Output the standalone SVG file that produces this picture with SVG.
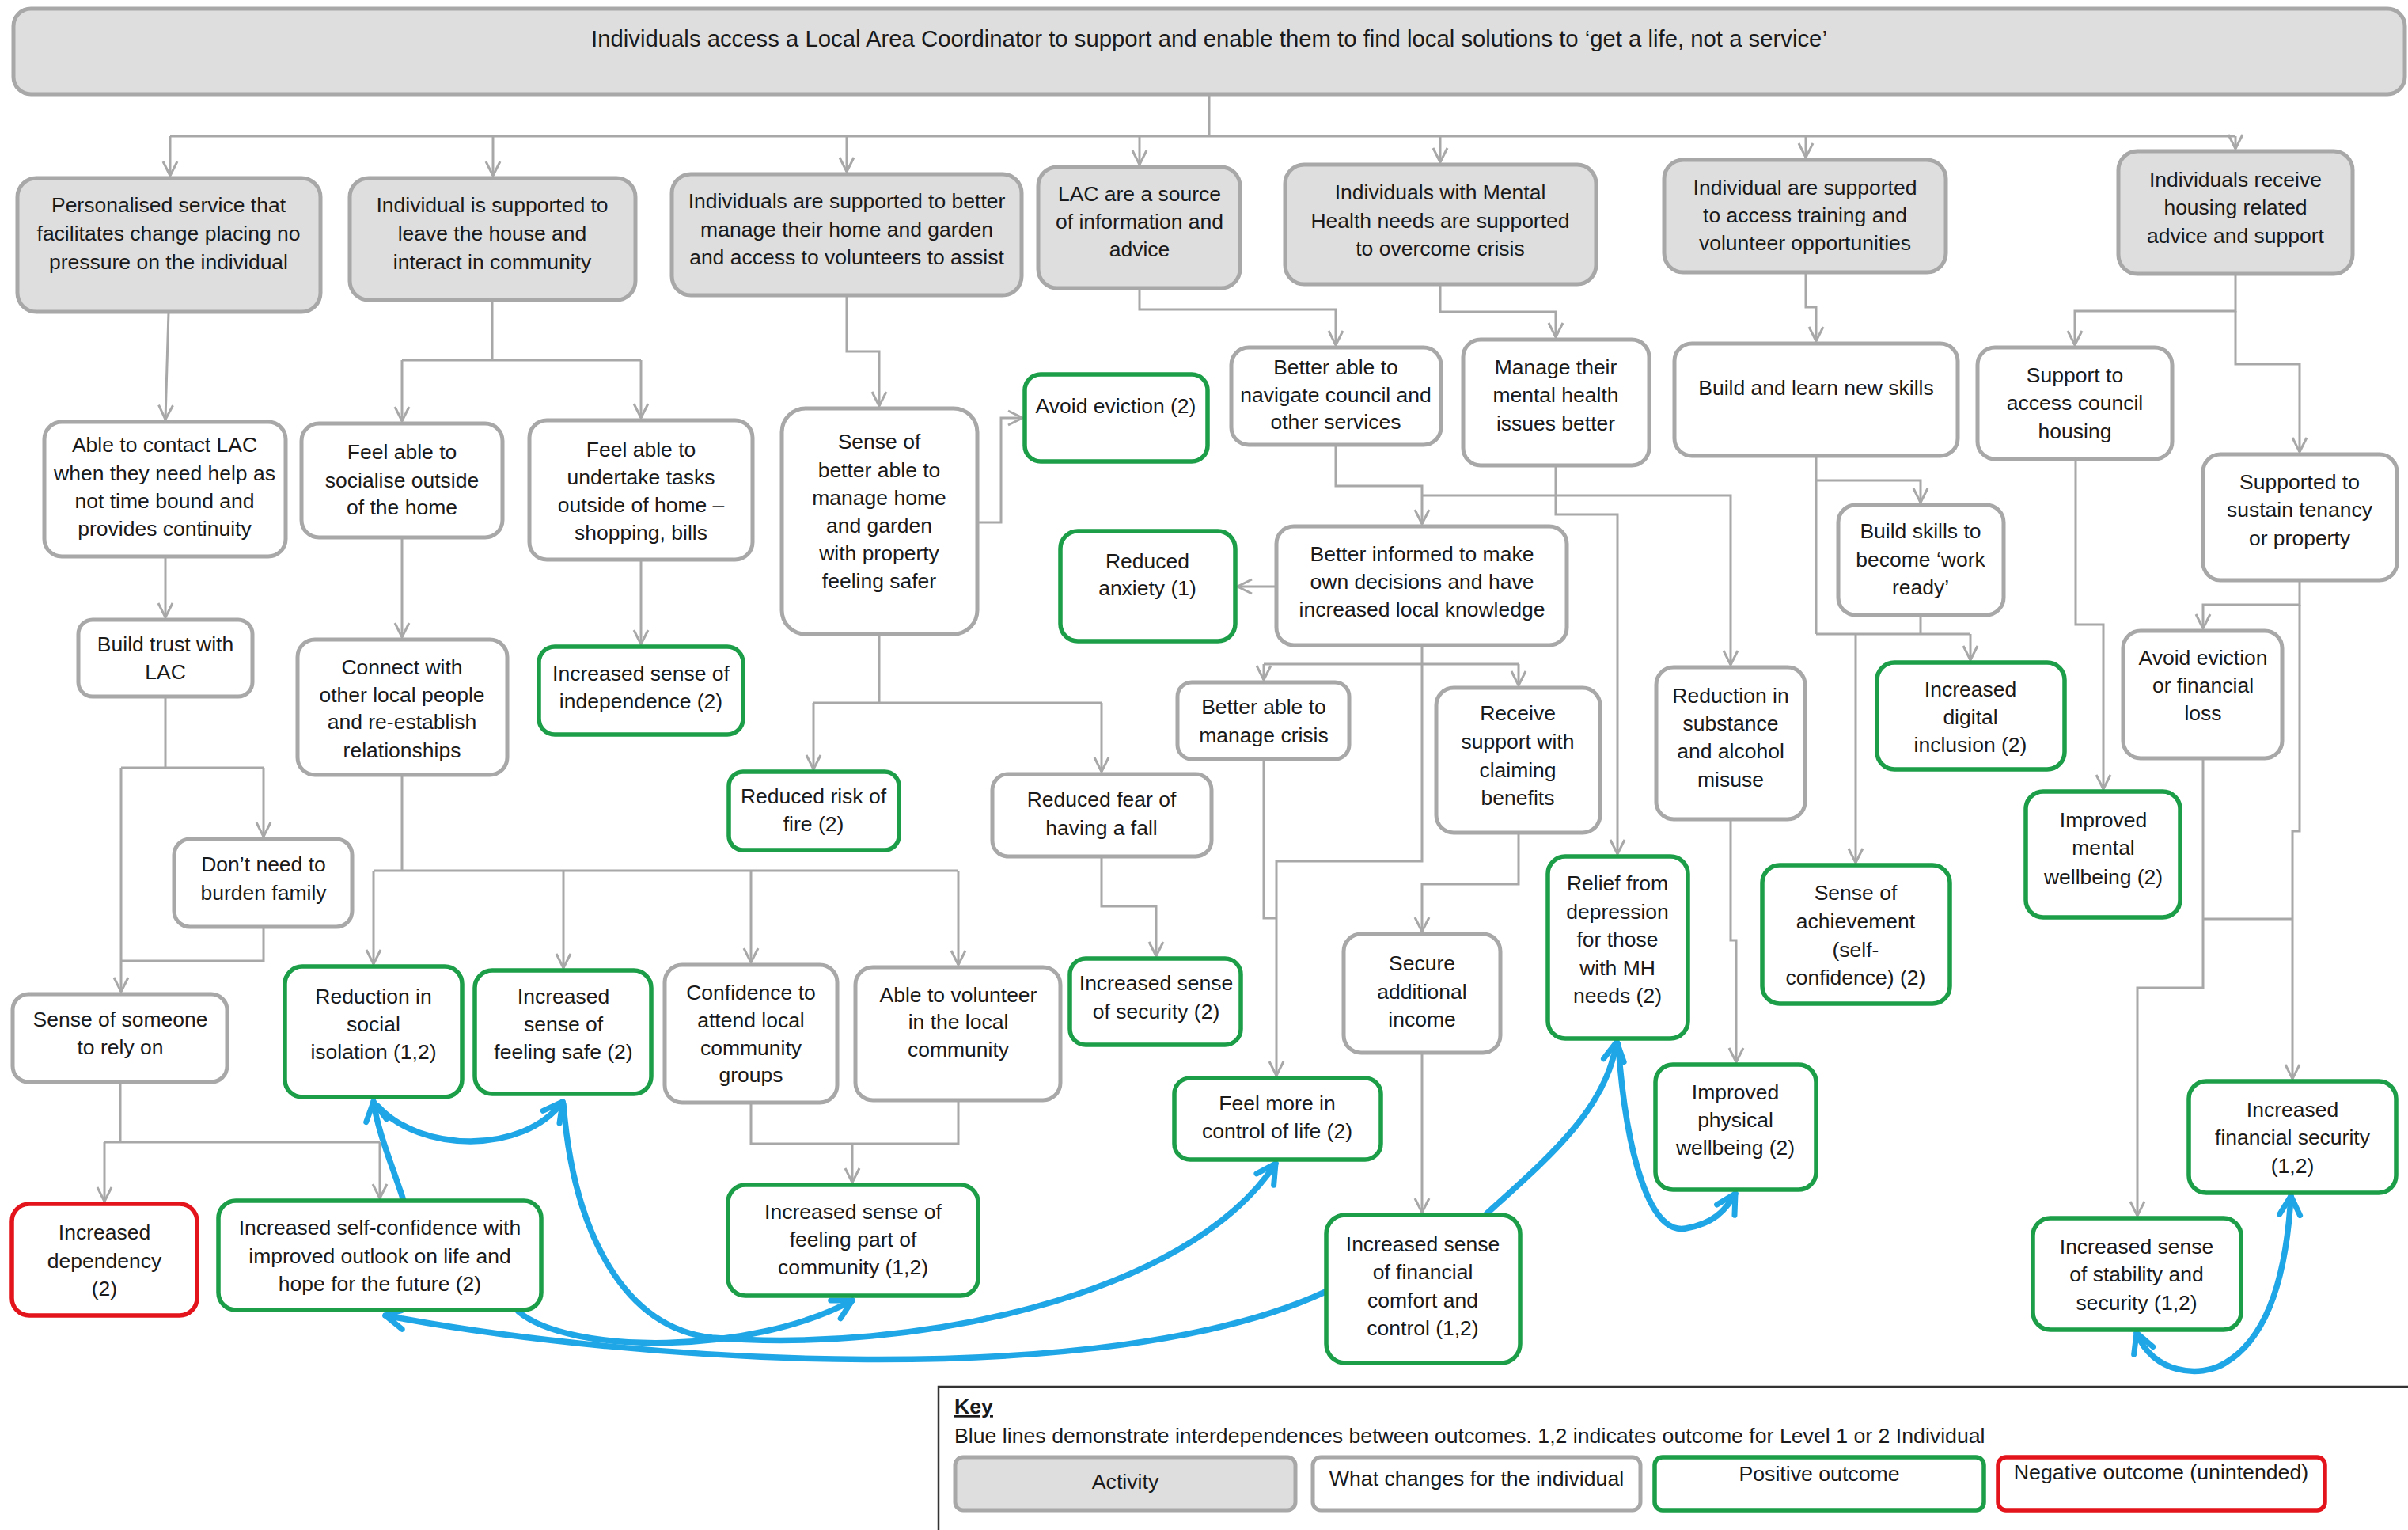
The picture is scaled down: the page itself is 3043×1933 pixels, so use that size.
<svg xmlns="http://www.w3.org/2000/svg" width="3043" height="1933" viewBox="0 0 3043 1933">
<defs>
<style>
.act{fill:#dedede;stroke:#a8a8a8;stroke-width:5}
.chg{fill:#fff;stroke:#a8a8a8;stroke-width:5}
.pos{fill:#fff;stroke:#1c9e48;stroke-width:5.5}
.neg{fill:#fff;stroke:#e3141b;stroke-width:5.5}
.t{font-family:"Liberation Sans",Arial,sans-serif;font-size:26.5px;fill:#1a1a1a;text-anchor:middle}
.k{font-family:"Liberation Sans",Arial,sans-serif;font-size:26.7px;fill:#1a1a1a}
.c{fill:none;stroke:#a8a8a8;stroke-width:3}
.ca{fill:none;stroke:#a8a8a8;stroke-width:3;marker-end:url(#ga)}
.b{fill:none;stroke:#1fa6e6;stroke-width:7.5;stroke-linecap:round;marker-end:url(#ba)}
</style>
<marker id="ga" markerUnits="userSpaceOnUse" viewBox="0 0 22 22" markerWidth="22" markerHeight="22" refX="20" refY="11" orient="auto">
<path d="M2,2 L20,11 L2,20" fill="none" stroke="#a8a8a8" stroke-width="3"/>
</marker>
<marker id="ba" markerUnits="userSpaceOnUse" viewBox="0 0 34 34" markerWidth="34" markerHeight="34" refX="28" refY="17" orient="auto-start-reverse">
<path d="M4,4 L28,17 L4,30" fill="none" stroke="#1fa6e6" stroke-width="7" stroke-linecap="round" stroke-linejoin="round"/>
</marker>
</defs>
<rect width="3043" height="1933" fill="#fff"/>

<g id="connectors">
<path class="c" d="M1528,119 V172 M215,172 H2825"/>
<path class="ca" d="M215,172 V222"/>
<path class="ca" d="M623,172 V222"/>
<path class="ca" d="M1070,172 V217"/>
<path class="ca" d="M1440,172 V208"/>
<path class="ca" d="M1820,172 V205"/>
<path class="ca" d="M2282,172 V199"/>
<path class="ca" d="M2825,172 V188"/>
<path class="ca" d="M213,394 L209,530"/>
<path class="c" d="M622,379 V455 M508,455 H810"/>
<path class="ca" d="M508,455 V532"/>
<path class="ca" d="M810,455 V528"/>
<path class="ca" d="M1070,373 V444 H1111 V513"/>
<path class="ca" d="M1235,660 H1265 V528 H1292"/>
<path class="ca" d="M1440,364 V391 H1688 V436"/>
<path class="ca" d="M1820,359 V394 H1966 V426"/>
<path class="ca" d="M2282,344 V388 H2295 V431"/>
<path class="ca" d="M2825,346 V393 H2622 V436"/>
<path class="ca" d="M2825,393 V460 H2906 V571"/>
<path class="ca" d="M209,703 V780"/>
<path class="c" d="M209,880 V970 M153,970 H333 M333,1171 V1214 H153"/>
<path class="ca" d="M333,970 V1057"/>
<path class="ca" d="M153,970 V1253"/>
<path class="ca" d="M508,679 V805"/>
<path class="ca" d="M810,707 V814"/>
<path class="c" d="M508,979 V1100 M472,1100 H1211"/>
<path class="ca" d="M472,1100 V1218"/>
<path class="ca" d="M712,1100 V1223"/>
<path class="ca" d="M949,1100 V1216"/>
<path class="ca" d="M1211,1100 V1219"/>
<path class="c" d="M1111,801 V888 M1028,888 H1392"/>
<path class="ca" d="M1028,888 V972"/>
<path class="ca" d="M1392,888 V975"/>
<path class="ca" d="M1392,1082 V1145 H1461 V1208"/>
<path class="ca" d="M1688,562 V614 H1797 V662"/>
<path class="ca" d="M1797,626 H2187 V840"/>
<path class="ca" d="M1966,588 V650 H2044 V1079"/>
<path class="ca" d="M1613,741 H1564"/>
<path class="c" d="M1597,839 H1919"/>
<path class="ca" d="M1597,839 V859"/>
<path class="ca" d="M1919,839 V866"/>
<path class="ca" d="M1797,815 V1088 H1613 V1359"/>
<path class="c" d="M1597,959 V1160 H1613"/>
<path class="ca" d="M1919,1052 V1117 H1797 V1177"/>
<path class="ca" d="M1797,1330 V1532"/>
<path class="ca" d="M2187,1035 V1188 H2194 V1342"/>
<path class="c" d="M2295,576 V801 M2427,777 V801 M2295,801 H2490"/>
<path class="ca" d="M2295,607 H2427 V635"/>
<path class="ca" d="M2490,801 V834"/>
<path class="ca" d="M2345,801 V1090"/>
<path class="ca" d="M2623,580 V789 H2658 V997"/>
<path class="ca" d="M2906,733 V764 H2784 V794"/>
<path class="ca" d="M2906,764 V1050 H2897 V1363"/>
<path class="ca" d="M2784,958 V1248 H2701 V1536"/>
<path class="c" d="M2784,1161 H2897"/>
<path class="c" d="M152,1367 V1443 M132,1443 H480"/>
<path class="ca" d="M132,1443 V1518"/>
<path class="ca" d="M480,1443 V1514"/>
<path class="c" d="M949,1393 V1445 H1211 V1390"/>
<path class="ca" d="M1077,1445 V1494"/>
</g>

<g id="blue-links">
<path class="b" d="M510,1517 C495,1470 478,1432 472,1392"/>
<path class="b" d="M478,1398 C530,1455 660,1460 711,1392"/>
<path class="b" d="M712,1395 C725,1560 790,1678 900,1690 C1150,1710 1500,1640 1612,1470"/>
<path class="b" d="M1675,1632 C1400,1760 800,1722 487,1662"/>
<path class="b" d="M655,1657 C720,1712 950,1712 1077,1643"/>
<path class="b" d="M1879,1533 C1960,1460 2030,1400 2043,1316"/>
<path class="b" d="M2045,1320 C2055,1460 2085,1560 2130,1552 C2165,1546 2180,1530 2193,1508"/>
<path class="b" style="marker-start:url(#ba)" d="M2700,1684 C2720,1735 2780,1742 2812,1722 C2870,1688 2890,1600 2895,1511"/>
</g>

<g id="title"><rect class="act" x="17" y="11" width="3022" height="108" rx="22"/>
<text class="t" style="font-size:29.3px" x="1528" y="59">Individuals access a Local Area Coordinator to support and enable them to find local solutions to ‘get a life, not a service’</text></g>

<g id="a1"><rect class="act" x="22" y="225" width="383" height="169" rx="24"/>
<text class="t"><tspan x="213" y="268">Personalised service that</tspan><tspan x="213" y="304">facilitates change placing no</tspan><tspan x="213" y="340">pressure on the individual</tspan></text></g>
<g id="a2"><rect class="act" x="442" y="225" width="361" height="154" rx="24"/>
<text class="t"><tspan x="622" y="268">Individual is supported to</tspan><tspan x="622" y="304">leave the house and</tspan><tspan x="622" y="340">interact in community</tspan></text></g>
<g id="a3"><rect class="act" x="849" y="220" width="442" height="153" rx="24"/>
<text class="t"><tspan x="1070" y="263">Individuals are supported to better</tspan><tspan x="1070" y="299">manage their home and garden</tspan><tspan x="1070" y="334">and access to volunteers to assist</tspan></text></g>
<g id="a4"><rect class="act" x="1312" y="211" width="255" height="153" rx="24"/>
<text class="t"><tspan x="1440" y="254">LAC are a source</tspan><tspan x="1440" y="289">of information and</tspan><tspan x="1440" y="324">advice</tspan></text></g>
<g id="a5"><rect class="act" x="1624" y="208" width="393" height="151" rx="24"/>
<text class="t"><tspan x="1820" y="252">Individuals with Mental</tspan><tspan x="1820" y="288">Health needs are supported</tspan><tspan x="1820" y="323">to overcome crisis</tspan></text></g>
<g id="a6"><rect class="act" x="2103" y="202" width="356" height="142" rx="24"/>
<text class="t"><tspan x="2281" y="246">Individual are supported</tspan><tspan x="2281" y="281">to access training and</tspan><tspan x="2281" y="316">volunteer opportunities</tspan></text></g>
<g id="a7"><rect class="act" x="2677" y="191" width="296" height="155" rx="24"/>
<text class="t"><tspan x="2825" y="236">Individuals receive</tspan><tspan x="2825" y="271">housing related</tspan><tspan x="2825" y="307">advice and support</tspan></text></g>

<g id="c1"><rect class="chg" x="56" y="533" width="305" height="170" rx="22"/>
<text class="t"><tspan x="208" y="571">Able to contact LAC</tspan><tspan x="208" y="607">when they need help as</tspan><tspan x="208" y="642">not time bound and</tspan><tspan x="208" y="677">provides continuity</tspan></text></g>
<g id="c2"><rect class="chg" x="381" y="535" width="254" height="144" rx="22"/>
<text class="t"><tspan x="508" y="580">Feel able to</tspan><tspan x="508" y="616">socialise outside</tspan><tspan x="508" y="650">of the home</tspan></text></g>
<g id="c3"><rect class="chg" x="669" y="531" width="282" height="176" rx="22"/>
<text class="t"><tspan x="810" y="577">Feel able to</tspan><tspan x="810" y="612">undertake tasks</tspan><tspan x="810" y="647">outside of home –</tspan><tspan x="810" y="682">shopping, bills</tspan></text></g>
<g id="c4"><rect class="chg" x="988" y="516" width="247" height="285" rx="30"/>
<text class="t"><tspan x="1111" y="567">Sense of</tspan><tspan x="1111" y="603">better able to</tspan><tspan x="1111" y="638">manage home</tspan><tspan x="1111" y="673">and garden</tspan><tspan x="1111" y="708">with property</tspan><tspan x="1111" y="743">feeling safer</tspan></text></g>
<g id="p1"><rect class="pos" x="1295" y="473" width="231" height="110" rx="20"/>
<text class="t" x="1410" y="522">Avoid eviction (2)</text></g>
<g id="c5"><rect class="chg" x="1556" y="439" width="265" height="123" rx="22"/>
<text class="t"><tspan x="1688" y="473">Better able to</tspan><tspan x="1688" y="508">navigate council and</tspan><tspan x="1688" y="542">other services</tspan></text></g>
<g id="c6"><rect class="chg" x="1849" y="429" width="235" height="159" rx="22"/>
<text class="t"><tspan x="1966" y="473">Manage their</tspan><tspan x="1966" y="508">mental health</tspan><tspan x="1966" y="544">issues better</tspan></text></g>
<g id="c7"><rect class="chg" x="2116" y="434" width="358" height="142" rx="22"/>
<text class="t" x="2295" y="499">Build and learn new skills</text></g>
<g id="c8"><rect class="chg" x="2499" y="439" width="246" height="141" rx="22"/>
<text class="t"><tspan x="2622" y="483">Support to</tspan><tspan x="2622" y="518">access council</tspan><tspan x="2622" y="554">housing</tspan></text></g>
<g id="c9"><rect class="chg" x="2784" y="574" width="245" height="159" rx="22"/>
<text class="t"><tspan x="2906" y="618">Supported to</tspan><tspan x="2906" y="653">sustain tenancy</tspan><tspan x="2906" y="689">or property</tspan></text></g>

<g id="c10"><rect class="chg" x="99" y="783" width="220" height="97" rx="18"/>
<text class="t"><tspan x="209" y="823">Build trust with</tspan><tspan x="209" y="858">LAC</tspan></text></g>
<g id="c11"><rect class="chg" x="376" y="808" width="265" height="171" rx="22"/>
<text class="t"><tspan x="508" y="852">Connect with</tspan><tspan x="508" y="887">other local people</tspan><tspan x="508" y="921">and re-establish</tspan><tspan x="508" y="957">relationships</tspan></text></g>
<g id="p2"><rect class="pos" x="681" y="817" width="258" height="111" rx="20"/>
<text class="t"><tspan x="810" y="860">Increased sense of</tspan><tspan x="810" y="895">independence (2)</tspan></text></g>
<g id="p3"><rect class="pos" x="921" y="975" width="215" height="99" rx="18"/>
<text class="t"><tspan x="1028" y="1015">Reduced risk of</tspan><tspan x="1028" y="1050">fire (2)</tspan></text></g>
<g id="c12"><rect class="chg" x="1254" y="978" width="277" height="104" rx="20"/>
<text class="t"><tspan x="1392" y="1019">Reduced fear of</tspan><tspan x="1392" y="1055">having a fall</tspan></text></g>
<g id="p4"><rect class="pos" x="1340" y="671" width="221" height="139" rx="22"/>
<text class="t"><tspan x="1450" y="718">Reduced</tspan><tspan x="1450" y="752">anxiety (1)</tspan></text></g>
<g id="c13"><rect class="chg" x="1613" y="665" width="367" height="150" rx="22"/>
<text class="t"><tspan x="1797" y="709">Better informed to make</tspan><tspan x="1797" y="744">own decisions and have</tspan><tspan x="1797" y="779">increased local knowledge</tspan></text></g>
<g id="c14"><rect class="chg" x="1488" y="862" width="217" height="97" rx="18"/>
<text class="t"><tspan x="1597" y="902">Better able to</tspan><tspan x="1597" y="938">manage crisis</tspan></text></g>
<g id="c15"><rect class="chg" x="1815" y="869" width="207" height="183" rx="22"/>
<text class="t"><tspan x="1918" y="910">Receive</tspan><tspan x="1918" y="946">support with</tspan><tspan x="1918" y="982">claiming</tspan><tspan x="1918" y="1017">benefits</tspan></text></g>
<g id="c16"><rect class="chg" x="2093" y="843" width="188" height="192" rx="22"/>
<text class="t"><tspan x="2187" y="888">Reduction in</tspan><tspan x="2187" y="923">substance</tspan><tspan x="2187" y="958">and alcohol</tspan><tspan x="2187" y="994">misuse</tspan></text></g>
<g id="c17"><rect class="chg" x="2323" y="638" width="209" height="139" rx="22"/>
<text class="t"><tspan x="2427" y="680">Build skills to</tspan><tspan x="2427" y="716">become ‘work</tspan><tspan x="2427" y="751">ready’</tspan></text></g>
<g id="p5"><rect class="pos" x="2372" y="837" width="237" height="135" rx="22"/>
<text class="t"><tspan x="2490" y="880">Increased</tspan><tspan x="2490" y="915">digital</tspan><tspan x="2490" y="950">inclusion (2)</tspan></text></g>
<g id="c18"><rect class="chg" x="2683" y="797" width="201" height="161" rx="22"/>
<text class="t"><tspan x="2784" y="840">Avoid eviction</tspan><tspan x="2784" y="875">or financial</tspan><tspan x="2784" y="910">loss</tspan></text></g>

<g id="c19"><rect class="chg" x="220" y="1060" width="225" height="111" rx="20"/>
<text class="t"><tspan x="333" y="1101">Don’t need to</tspan><tspan x="333" y="1137">burden family</tspan></text></g>
<g id="c20"><rect class="chg" x="16" y="1256" width="271" height="111" rx="20"/>
<text class="t"><tspan x="152" y="1297">Sense of someone</tspan><tspan x="152" y="1332">to rely on</tspan></text></g>
<g id="p6"><rect class="pos" x="360" y="1221" width="224" height="165" rx="22"/>
<text class="t"><tspan x="472" y="1268">Reduction in</tspan><tspan x="472" y="1303">social</tspan><tspan x="472" y="1338">isolation (1,2)</tspan></text></g>
<g id="p7"><rect class="pos" x="600" y="1226" width="223" height="156" rx="22"/>
<text class="t"><tspan x="712" y="1268">Increased</tspan><tspan x="712" y="1303">sense of</tspan><tspan x="712" y="1338">feeling safe (2)</tspan></text></g>
<g id="c21"><rect class="chg" x="840" y="1219" width="218" height="174" rx="22"/>
<text class="t"><tspan x="949" y="1263">Confidence to</tspan><tspan x="949" y="1298">attend local</tspan><tspan x="949" y="1333">community</tspan><tspan x="949" y="1367">groups</tspan></text></g>
<g id="c22"><rect class="chg" x="1081" y="1222" width="259" height="168" rx="22"/>
<text class="t"><tspan x="1211" y="1266">Able to volunteer</tspan><tspan x="1211" y="1300">in the local</tspan><tspan x="1211" y="1335">community</tspan></text></g>
<g id="p8"><rect class="pos" x="1352" y="1211" width="216" height="109" rx="20"/>
<text class="t"><tspan x="1461" y="1251">Increased sense</tspan><tspan x="1461" y="1287">of security (2)</tspan></text></g>
<g id="c23"><rect class="chg" x="1698" y="1180" width="198" height="150" rx="22"/>
<text class="t"><tspan x="1797" y="1226">Secure</tspan><tspan x="1797" y="1262">additional</tspan><tspan x="1797" y="1297">income</tspan></text></g>
<g id="p9"><rect class="pos" x="1956" y="1082" width="177" height="230" rx="22"/>
<text class="t"><tspan x="2044" y="1125">Relief from</tspan><tspan x="2044" y="1161">depression</tspan><tspan x="2044" y="1196">for those</tspan><tspan x="2044" y="1232">with MH</tspan><tspan x="2044" y="1267">needs (2)</tspan></text></g>
<g id="p10"><rect class="pos" x="2227" y="1093" width="237" height="175" rx="22"/>
<text class="t"><tspan x="2345" y="1137">Sense of</tspan><tspan x="2345" y="1173">achievement</tspan><tspan x="2345" y="1209">(self-</tspan><tspan x="2345" y="1244">confidence) (2)</tspan></text></g>
<g id="p11"><rect class="pos" x="2560" y="1000" width="195" height="159" rx="22"/>
<text class="t"><tspan x="2658" y="1045">Improved</tspan><tspan x="2658" y="1080">mental</tspan><tspan x="2658" y="1117">wellbeing (2)</tspan></text></g>
<g id="p12"><rect class="pos" x="1484" y="1362" width="261" height="103" rx="20"/>
<text class="t"><tspan x="1614" y="1403">Feel more in</tspan><tspan x="1614" y="1438">control of life (2)</tspan></text></g>
<g id="p13"><rect class="pos" x="2092" y="1345" width="203" height="158" rx="22"/>
<text class="t"><tspan x="2193" y="1389">Improved</tspan><tspan x="2193" y="1424">physical</tspan><tspan x="2193" y="1459">wellbeing (2)</tspan></text></g>
<g id="p14"><rect class="pos" x="2766" y="1366" width="262" height="141" rx="22"/>
<text class="t"><tspan x="2897" y="1411">Increased</tspan><tspan x="2897" y="1446">financial security</tspan><tspan x="2897" y="1482">(1,2)</tspan></text></g>
<g id="n1"><rect class="neg" x="15" y="1521" width="234" height="141" rx="22"/>
<text class="t"><tspan x="132" y="1566">Increased</tspan><tspan x="132" y="1602">dependency</tspan><tspan x="132" y="1637">(2)</tspan></text></g>
<g id="p15"><rect class="pos" x="276" y="1517" width="408" height="138" rx="22"/>
<text class="t"><tspan x="480" y="1560">Increased self-confidence with</tspan><tspan x="480" y="1596">improved outlook on life and</tspan><tspan x="480" y="1631">hope for the future (2)</tspan></text></g>
<g id="p16"><rect class="pos" x="920" y="1497" width="316" height="140" rx="22"/>
<text class="t"><tspan x="1078" y="1540">Increased sense of</tspan><tspan x="1078" y="1575">feeling part of</tspan><tspan x="1078" y="1610">community (1,2)</tspan></text></g>
<g id="p17"><rect class="pos" x="1676" y="1535" width="245" height="187" rx="24"/>
<text class="t"><tspan x="1798" y="1581">Increased sense</tspan><tspan x="1798" y="1616">of financial</tspan><tspan x="1798" y="1652">comfort and</tspan><tspan x="1798" y="1687">control (1,2)</tspan></text></g>
<g id="p18"><rect class="pos" x="2569" y="1539" width="263" height="141" rx="22"/>
<text class="t"><tspan x="2700" y="1584">Increased sense</tspan><tspan x="2700" y="1619">of stability and</tspan><tspan x="2700" y="1655">security (1,2)</tspan></text></g>

<g id="key">
<rect x="1186" y="1752" width="1880" height="220" fill="#fff" stroke="#333" stroke-width="2.5"/>
<text class="k" x="1206" y="1786" style="font-weight:bold;text-decoration:underline">Key</text>
<text class="k" x="1206" y="1823">Blue lines demonstrate interdependences between outcomes. 1,2 indicates outcome for Level 1 or 2 Individual</text>
<rect class="act" x="1207" y="1841" width="430" height="67" rx="10"/>
<text class="k" x="1422" y="1881" text-anchor="middle">Activity</text>
<rect class="chg" x="1659" y="1841" width="414" height="67" rx="10"/>
<text class="k" x="1866" y="1877" text-anchor="middle">What changes for the individual</text>
<rect class="pos" x="2091" y="1841" width="416" height="67" rx="10"/>
<text class="k" x="2299" y="1871" text-anchor="middle">Positive outcome</text>
<rect class="neg" x="2525" y="1841" width="413" height="67" rx="10"/>
<text class="k" x="2731" y="1869" text-anchor="middle">Negative outcome (unintended)</text>
</g>
</svg>
